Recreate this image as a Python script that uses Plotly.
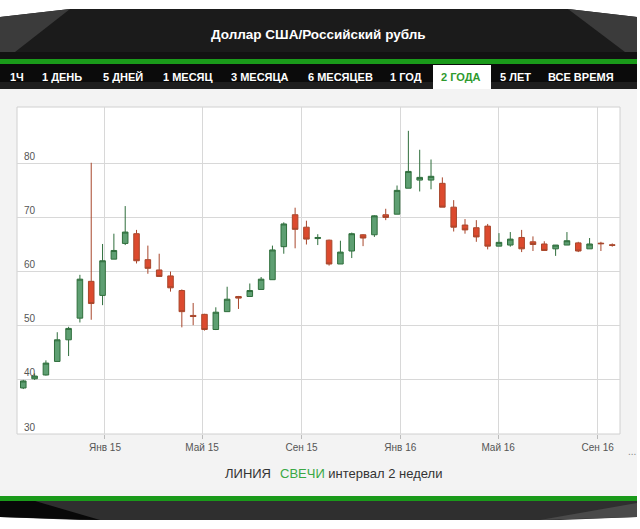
import plotly.graph_objects as go
import pandas as pd

# ---- data ----
start_date = "2014-09-22"
n_candles = 53
open_ = [38.5, 40.2, 40.9, 43.4, 47.4, 51.4, 58.2, 55.6, 62.3, 65.2,
         67.0, 62.2, 60.3, 59.2, 56.5, 51.9, 52.1, 49.3, 52.6, 55.4,
         55.4, 56.7, 58.5, 64.6, 70.5, 68.2, 66.1, 65.8, 61.4, 63.8,
         66.8, 66.8, 70.5, 70.6, 75.4, 76.9, 76.9, 76.3, 71.9, 68.6,
         68.1, 68.4, 64.7, 64.9, 66.3, 65.5, 65.1, 64.2, 64.9, 65.3,
         64.2, 65.25, 64.95]
high = [40.0, 41.2, 43.6, 48.8, 49.8, 59.4, 80.1, 65.1, 67.0, 72.1,
        67.7, 64.8, 63.3, 60.0, 56.7, 54.2, 52.2, 53.4, 57.2, 55.5,
        57.8, 59.0, 64.8, 69.1, 71.8, 69.4, 66.9, 65.9, 65.7, 67.2,
        66.9, 70.4, 71.6, 75.9, 86.0, 82.5, 80.7, 77.4, 73.2, 69.7,
        69.5, 68.8, 67.1, 67.3, 67.7, 66.5, 65.6, 64.9, 67.3, 65.5,
        66.2, 65.5, 65.2]
low = [38.3, 40.0, 40.8, 43.4, 44.4, 50.6, 51.1, 53.8, 62.3, 64.9,
       61.5, 59.6, 59.0, 56.3, 49.7, 50.1, 49.1, 49.2, 52.6, 53.1,
       55.4, 56.7, 58.5, 63.3, 64.3, 65.0, 64.9, 61.1, 61.4, 62.5,
       64.7, 66.4, 69.5, 70.6, 75.4, 74.8, 75.2, 71.9, 67.4, 67.0,
       65.5, 64.1, 64.7, 64.6, 63.6, 63.8, 63.9, 62.9, 64.9, 63.6,
       64.2, 63.8, 64.6]
close = [39.8, 40.7, 43.1, 47.4, 49.5, 58.6, 54.1, 62.0, 63.9, 67.3,
         62.0, 60.6, 59.1, 57.0, 52.6, 51.7, 49.3, 52.5, 54.9, 55.1,
         56.5, 58.6, 64.0, 68.8, 67.8, 66.0, 66.3, 61.4, 63.6, 67.0,
         66.2, 70.3, 70.0, 75.0, 78.5, 77.4, 77.6, 71.9, 68.2, 67.7,
         66.4, 64.7, 65.4, 66.0, 64.2, 65.0, 63.9, 64.9, 65.7, 63.8,
         65.1, 65.15, 64.85]

x_tick_vals = ["2015-01-01", "2015-05-01", "2015-09-01", "2016-01-01", "2016-05-01", "2016-09-01"]
x_tick_text = ["Янв 15", "Май 15", "Сен 15", "Янв 16", "Май 16", "Сен 16"]
y_tick_vals = [30, 40, 50, 60, 70, 80]

tabs = ["1Ч", "1 ДЕНЬ", "5 ДНЕЙ", "1 МЕСЯЦ", "3 МЕСЯЦА", "6 МЕСЯЦЕВ", "1 ГОД", "2 ГОДА", "5 ЛЕТ", "ВСЕ ВРЕМЯ"]
tab_x = [17, 62, 123, 188, 260, 340, 406, 461, 515, 581]
active_tab = "2 ГОДА"
title_text = "Доллар США/Российский рубль"

dates = pd.date_range(start_date, periods=n_candles, freq="14D")

# ---- layout geometry (pixels) ----
W, H = 640, 529
PL, PR, PT, PB = 17, 620, 107, 434


def px(x):
    return (x - PL) / (PR - PL)


def py(y):
    return (PB - y) / (PB - PT)


def path(points):
    return "M " + " L ".join(f"{px(a):.5f},{py(b):.5f}" for a, b in points) + " Z"


fig = go.Figure()
fig.add_trace(go.Candlestick(
    x=dates, open=open_, high=high, low=low, close=close,
    increasing=dict(line=dict(color="#2f6e3c", width=1), fillcolor="#5e9f72"),
    decreasing=dict(line=dict(color="#a8472c", width=1), fillcolor="#dc4a2e"),
    whiskerwidth=0, showlegend=False, hoverinfo="x+y",
))

shapes = []
# gray panel
shapes.append(dict(type="rect", xref="paper", yref="paper", x0=px(0), x1=px(637), y0=py(496), y1=py(89),
                   fillcolor="#f3f3f3", line=dict(width=0), layer="below"))
# white plot area
shapes.append(dict(type="rect", xref="paper", yref="paper", x0=0, x1=1, y0=0, y1=1,
                   fillcolor="white", line=dict(color="#d0d0d0", width=1), layer="below"))
# header
shapes.append(dict(type="path", xref="paper", yref="paper",
                   path=path([(0, 17), (70, 9), (568, 9), (637, 17), (637, 59), (0, 59)]),
                   fillcolor="#1b1b1b", line=dict(width=0), layer="above"))
shapes.append(dict(type="path", xref="paper", yref="paper",
                   path=path([(0, 17), (70, 9), (15, 52), (0, 52)]),
                   fillcolor="#3b3b3b", line=dict(width=0), layer="above"))
shapes.append(dict(type="path", xref="paper", yref="paper",
                   path=path([(568, 9), (637, 17), (637, 52), (625, 52)]),
                   fillcolor="#3b3b3b", line=dict(width=0), layer="above"))
shapes.append(dict(type="rect", xref="paper", yref="paper", x0=px(0), x1=px(637), y0=py(52), y1=py(59),
                   fillcolor="#121212", line=dict(width=0), layer="above"))
# green stripe top
shapes.append(dict(type="rect", xref="paper", yref="paper", x0=px(0), x1=px(637), y0=py(64), y1=py(59),
                   fillcolor="#1a9a1a", line=dict(width=0), layer="above"))
# tab bar
shapes.append(dict(type="rect", xref="paper", yref="paper", x0=px(0), x1=px(637), y0=py(89), y1=py(64),
                   fillcolor="#0b0b0b", line=dict(width=0), layer="above"))
shapes.append(dict(type="rect", xref="paper", yref="paper", x0=px(0), x1=px(637), y0=py(89), y1=py(82),
                   fillcolor="#1e1e1e", line=dict(width=0), layer="above"))
shapes.append(dict(type="rect", xref="paper", yref="paper", x0=px(433), x1=px(491), y0=py(89), y1=py(65),
                   fillcolor="white", line=dict(width=0), layer="above"))
# bottom green stripe + footer
shapes.append(dict(type="rect", xref="paper", yref="paper", x0=px(0), x1=px(637), y0=py(501), y1=py(496),
                   fillcolor="#1a9a1a", line=dict(width=0), layer="above"))
shapes.append(dict(type="path", xref="paper", yref="paper",
                   path=path([(0, 501), (637, 501), (637, 517), (560, 520), (80, 520), (0, 517)]),
                   fillcolor="#2f2f2f", line=dict(width=0), layer="above"))
shapes.append(dict(type="path", xref="paper", yref="paper",
                   path=path([(0, 501), (35, 501), (100, 520), (0, 517)]),
                   fillcolor="#080808", line=dict(width=0), layer="above"))
shapes.append(dict(type="path", xref="paper", yref="paper",
                   path=path([(540, 520), (637, 503), (637, 517)]),
                   fillcolor="#4a4a4a", line=dict(width=0), layer="above"))

annotations = []
annotations.append(dict(text=f"<b>{title_text}</b>", x=px(318), y=py(34), xref="paper", yref="paper",
                        showarrow=False, font=dict(family="Liberation Sans, Arial", size=13.5, color="white"),
                        xanchor="center", yanchor="middle"))
for t, tx in zip(tabs, tab_x):
    annotations.append(dict(text=f"<b>{t}</b>", x=px(tx), y=py(77), xref="paper", yref="paper",
                            showarrow=False,
                            font=dict(family="Liberation Sans Narrow, Arial Narrow, Liberation Sans", size=11,
                                      color="#2e9a2e" if t == active_tab else "white"),
                            xanchor="center", yanchor="middle"))
annotations.append(dict(text="...", x=px(632), y=py(451), xref="paper", yref="paper", showarrow=False,
                        font=dict(family="Liberation Sans, Arial", size=10, color="#888"),
                        xanchor="center", yanchor="middle"))
annotations.append(dict(text="ЛИНИЯ", x=px(223), y=py(473), xref="paper", yref="paper", showarrow=False,
                        font=dict(family="Liberation Sans, Arial", size=13, color="#333"),
                        xanchor="left", yanchor="middle"))
annotations.append(dict(text="<span style='color:#3aa845'>СВЕЧИ</span> интервал 2 недели",
                        x=px(278), y=py(473), xref="paper", yref="paper", showarrow=False,
                        font=dict(family="Liberation Sans, Arial", size=13, color="#333"),
                        xanchor="left", yanchor="middle"))

fig.update_layout(
    width=W, height=H,
    margin=dict(l=PL, r=W - PR, t=PT, b=H - PB, pad=0),
    paper_bgcolor="white", plot_bgcolor="white",
    shapes=shapes, annotations=annotations,
    xaxis=dict(
        range=["2014-09-14 06:00", "2016-09-28 14:00"],
        tickvals=x_tick_vals, ticktext=x_tick_text,
        showgrid=True, gridcolor="#d8d8d8", gridwidth=1,
        ticks="outside", ticklen=4, tickcolor="#bbbbbb",
        tickfont=dict(family="Liberation Sans, Arial", size=10, color="#555"),
        rangeslider=dict(visible=False), zeroline=False, showline=False,
    ),
    yaxis=dict(
        range=[30, 90.4],
        tickvals=y_tick_vals,
        showgrid=True, gridcolor="#d8d8d8", gridwidth=1,
        ticklabelposition="inside top", ticklabelstandoff=4,
        tickfont=dict(family="Liberation Sans, Arial", size=10, color="#555"),
        zeroline=False, showline=False,
    ),
)

fig.write_html("out.html", config={"displayModeBar": False},
               post_script="document.body.style.margin='0';document.body.style.padding='0';")
